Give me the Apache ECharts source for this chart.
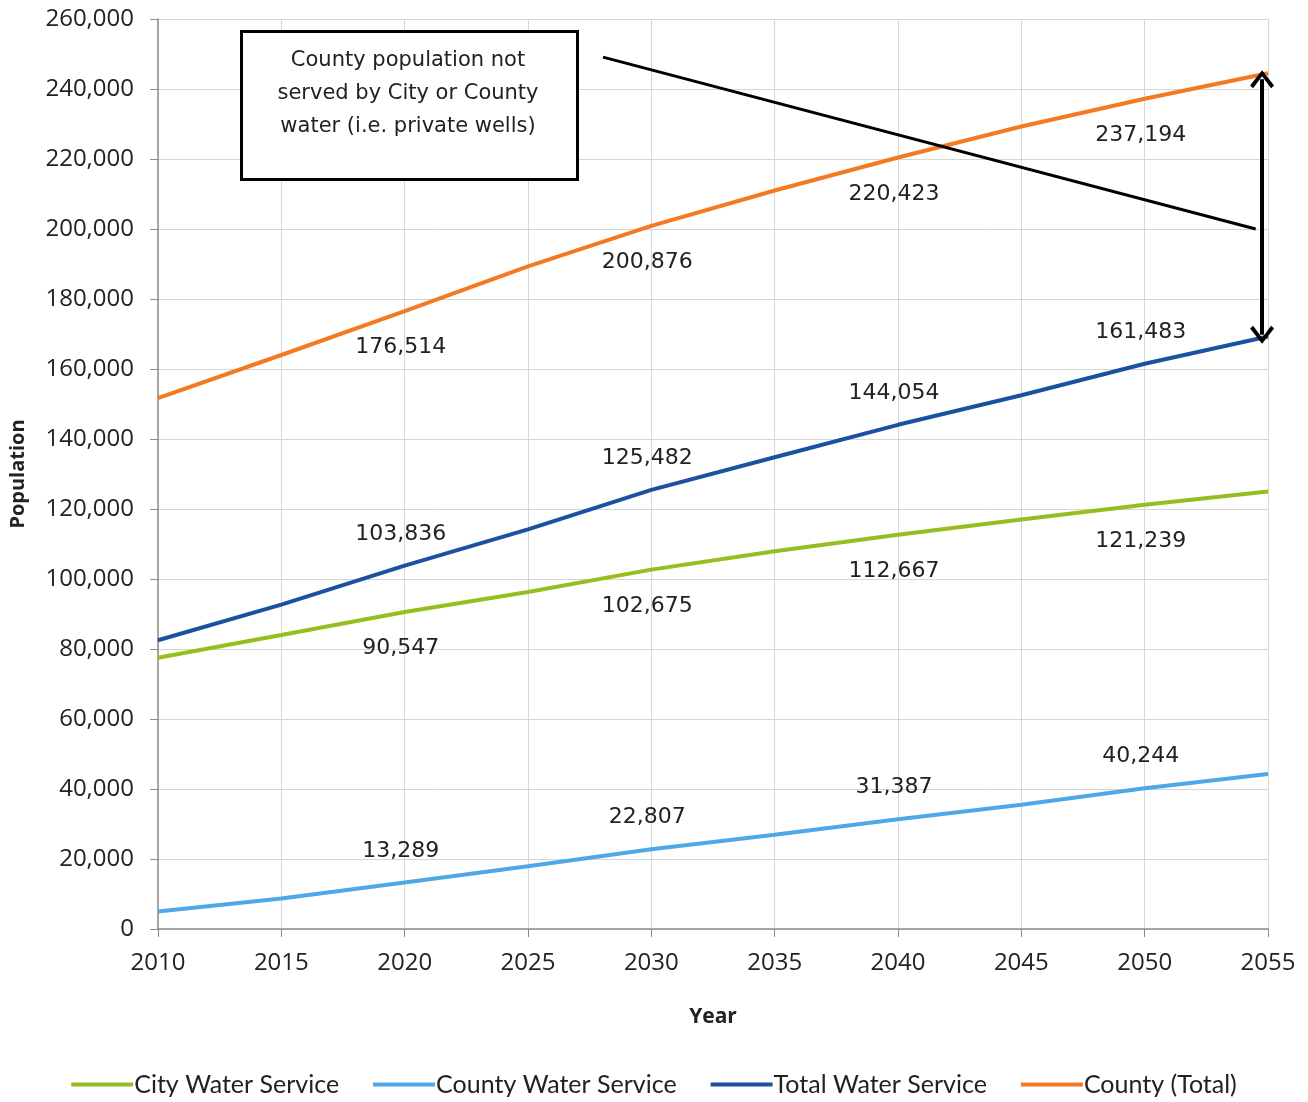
<!DOCTYPE html>
<html>
<head>
<meta charset="utf-8">
<script src="https://cdn.jsdelivr.net/npm/echarts@6/dist/echarts.min.js"></script>
<style>
  html, body { margin: 0; padding: 0; background: #fff; }
  #chart { width: 1308px; height: 1102px; }
</style>
</head>
<body>
<div id="chart"></div>
<script>
// years and population
const years = [2010, 2015, 2020, 2025, 2030, 2035, 2040, 2045, 2050, 2055];
const cityWater = [77500, 84000, 90547, 96300, 102675, 107900, 112667, 117000, 121239, 125000];
const countyWater = [5000, 8700, 13289, 17900, 22807, 26900, 31387, 35500, 40244, 44300];
const totalWater = [82500, 92700, 103836, 114200, 125482, 134800, 144054, 152500, 161483, 169300];
const countyTotal = [151700, 164000, 176514, 189300, 200876, 211000, 220423, 229300, 237194, 244500];
const labelYears = [2020, 2030, 2040, 2050];
const seriesNames = ['City Water Service', 'County Water Service', 'Total Water Service', 'County (Total)'];
const seriesColors = ['#95BE1E', '#4FA8E6', '#1B52A0', '#F47A22'];

const fmt = (v) => Math.round(v).toLocaleString('en-US');

// build [year, value] pairs, labels only on the decade years
function makeData(values, pos) {
    return years.map((y, i) => ({
        value: [y, values[i]],
        label: {
            show: labelYears.includes(y),
            position: pos,
            distance: pos === 'top' ? 20 : 25,
            offset: [-4, 0],
            formatter: (p) => fmt(p.value[1]),
            fontFamily: 'DejaVu Sans',
            fontSize: 22,
            color: '#222'
        }
    }));
}

function lineSeries(idx, values, pos) {
    return {
        name: seriesNames[idx],
        type: 'line',
        symbol: 'circle',
        symbolSize: 1,
        showSymbol: true,
        color: seriesColors[idx],
        lineStyle: { width: 4 },
        emphasis: { disabled: true },
        data: makeData(values, pos)
    };
}

const chart = echarts.init(document.getElementById('chart'));

// open chevron used for the double arrow ends
const chevron = 'path://M0,14 L12,0 L24,14 L21,16.5 L12,5.5 L3,16.5 Z';

const orange = lineSeries(3, countyTotal, 'bottom');
// callout line and the gap arrow between county total and total served
orange.markLine = {
    silent: true,
    label: { show: false },
    emphasis: { disabled: true },
    data: [
        [
            { coord: [2028.04, 249100], symbol: 'none', lineStyle: { color: '#000', width: 3, type: 'solid' } },
            { coord: [2054.5, 200000], symbol: 'none' }
        ],
        [
            { coord: [2054.76, 242800], symbol: chevron, symbolSize: [24, 18], lineStyle: { color: '#000', width: 4, type: 'solid' }, itemStyle: { color: '#000' } },
            { coord: [2054.76, 169800], symbol: chevron, symbolSize: [24, 18] }
        ]
    ]
};

const option = {
    animation: false,
    grid: { left: 158, right: 40, top: 19, bottom: 173, outerBoundsMode: 'none' },
    xAxis: {
        type: 'value',
        min: 2010,
        max: 2055,
        interval: 5,
        name: 'Year',
        nameLocation: 'middle',
        nameGap: 78,
        nameTextStyle: { fontFamily: 'Open Sans', fontSize: 21, fontWeight: 'bold', color: '#222' },
        axisLine: { lineStyle: { color: '#8c8c8c', width: 1.5 } },
        axisTick: { show: true, length: 8, lineStyle: { color: '#8c8c8c' } },
        axisLabel: {
            formatter: (v) => String(v),
            margin: 22,
            fontFamily: 'Open Sans',
            fontSize: 24,
            color: '#222'
        },
        splitLine: { show: true, lineStyle: { color: '#d6d6d6' } }
    },
    yAxis: {
        type: 'value',
        min: 0,
        max: 260000,
        interval: 20000,
        name: 'Population',
        nameLocation: 'middle',
        nameGap: 130,
        nameTextStyle: { fontFamily: 'Open Sans', fontSize: 20, fontWeight: 'bold', color: '#222' },
        axisLine: { show: true, lineStyle: { color: '#8c8c8c', width: 1.5 } },
        axisTick: { show: true, length: 8, lineStyle: { color: '#8c8c8c' } },
        axisLabel: {
            formatter: fmt,
            margin: 24,
            fontFamily: 'Open Sans',
            fontSize: 24,
            color: '#222'
        },
        splitLine: { show: true, lineStyle: { color: '#d6d6d6' } }
    },
    legend: {
        bottom: 0,
        left: 'center',
        itemWidth: 62,
        itemHeight: 4,
        itemGap: 34,
        icon: 'rect',
        textStyle: { fontFamily: 'Lato', fontSize: 25, color: '#222', padding: [0, 0, 0, -4] },
        data: seriesNames
    },
    series: [
        lineSeries(0, cityWater, 'bottom'),
        lineSeries(1, countyWater, 'top'),
        lineSeries(2, totalWater, 'top'),
        orange
    ],
    graphic: [
        {
            type: 'rect',
            left: 240,
            top: 30,
            shape: { width: 336, height: 148 },
            style: { fill: '#fff', stroke: '#000', lineWidth: 3 },
            z: 10
        },
        {
            type: 'text',
            x: 408,
            y: 44,
            style: {
                text: 'County population not\nserved by City or County\nwater (i.e. private wells)',
                align: 'center',
                fontFamily: 'DejaVu Sans',
                fontSize: 21,
                lineHeight: 33,
                fill: '#222'
            },
            z: 11
        }
    ]
};

chart.setOption(option);
</script>
</body>
</html>
